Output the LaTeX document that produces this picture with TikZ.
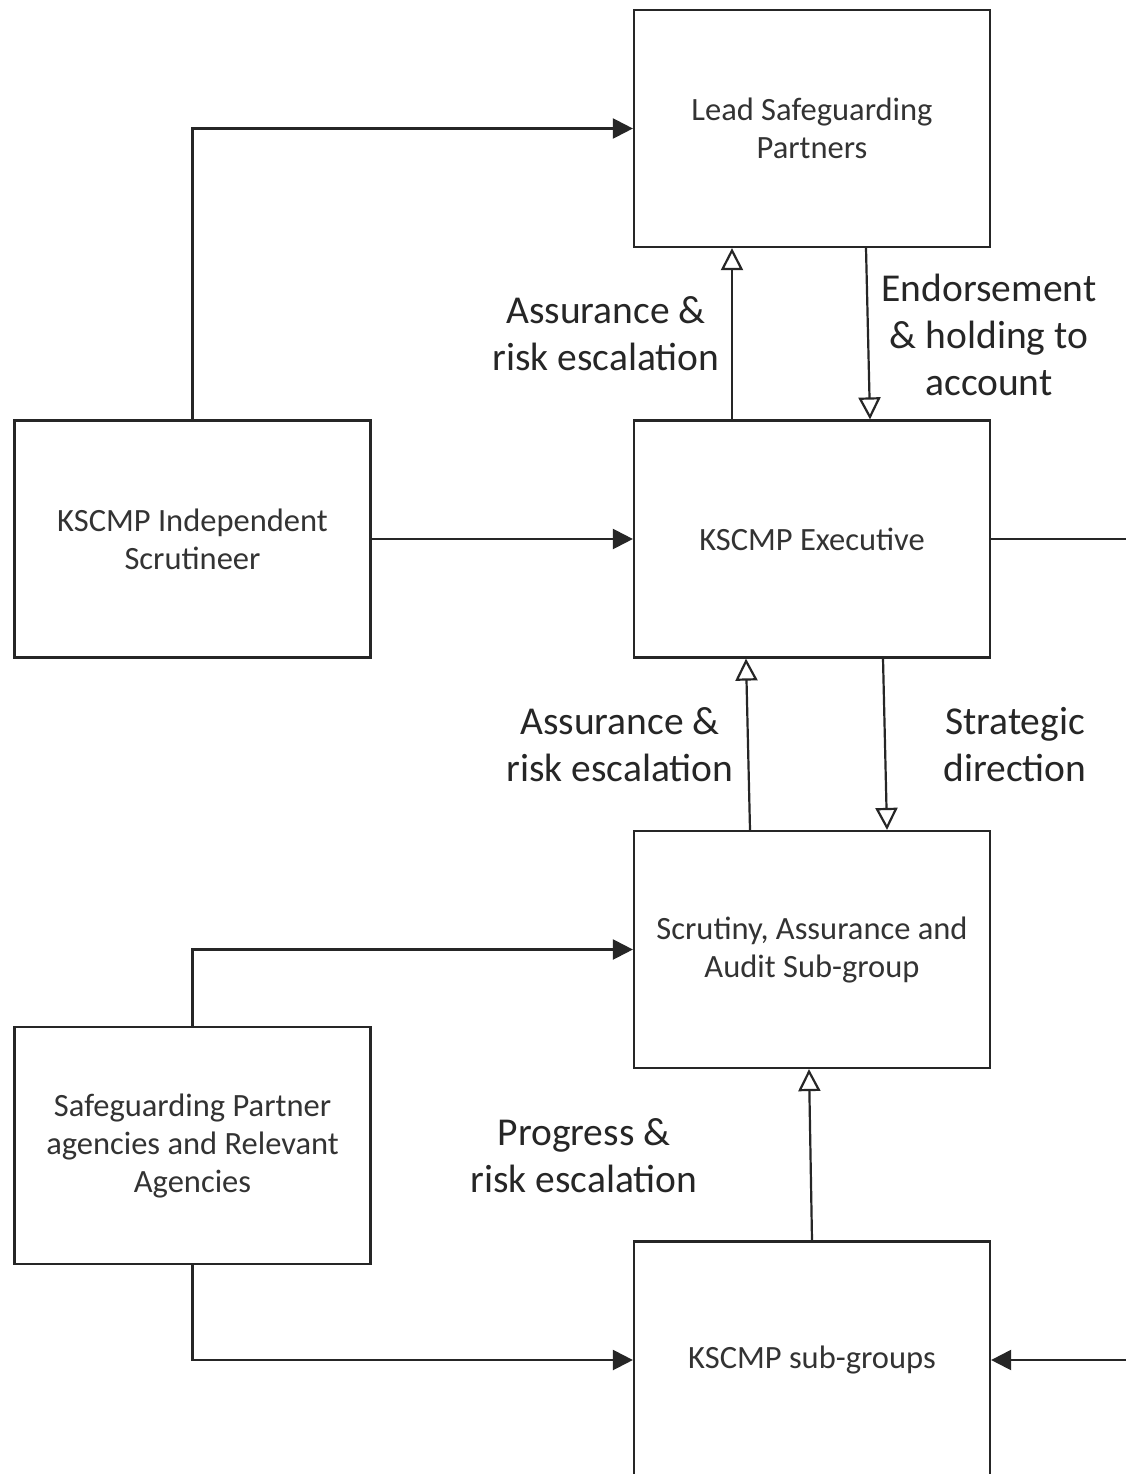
\documentclass[tikz,border=0pt]{standalone}
\usepackage{fontspec}
\setmainfont{Carlito}
\usepackage{tikz}
\usetikzlibrary{arrows.meta}

\begin{document}
\begin{tikzpicture}[x=1pt,y=-1pt,
    box/.style={draw=black!85,line width=2.2pt,minimum width=356pt,minimum height=237pt,
        align=center,text=black!80,font=\fontsize{32.5}{38}\selectfont},
    lbl/.style={align=center,font=\fontsize{39.5}{47}\selectfont,text=black!85},
    flow/.style={draw=black!85,line width=2.2pt,-{Triangle[length=20pt,width=20pt]}},
    back/.style={draw=black!85,line width=2.2pt,-{Triangle[open,length=22pt,width=22pt]}}]
            \useasboundingbox (0,0) rectangle (1126,1474);
            \clip (0,0) rectangle (1126,1474);
            \fill[white] (0,0) rectangle (1126,1474);

            % boxes
            \node[box] (lead) at (812,128.5) {Lead Safeguarding\\Partners};
            \node[box] (exec) at (812,539) {KSCMP Executive};
            \node[box] (scrut) at (812,949.5) {Scrutiny, Assurance and\\Audit Sub-group};
            \node[box] (subs) at (812,1360) {KSCMP sub-groups};
            \node[box] (indep) at (192.5,539) {KSCMP Independent\\Scrutineer};
            \node[box] (agency) at (192.5,1145.5) {Safeguarding Partner\\agencies and Relevant\\Agencies};

            % free ends at the right edge
            \coordinate (execout) at (1126,539);
            \coordinate (subsin) at (1126,1360);

            % labels
            \node[lbl] (upassure) at (606,334) {Assurance \&\\risk escalation};
            \node[lbl] (endorse) at (989,335) {Endorsement\\\& holding to\\account};
            \node[lbl] (midassure) at (620,744.5) {Assurance \&\\risk escalation};
            \node[lbl] (strategy) at (1015,744.5) {Strategic\\direction};
            \node[lbl] (progress) at (584,1156) {Progress \&\\risk escalation};

            % connectors
            \draw[flow] (indep.north) |- (lead.west);
            \draw[flow] (indep.east) -- (exec.west);
            \draw[flow] (agency.north) |- (scrut.west);
            \draw[flow] (agency.south) |- (subs.west);
            \draw[flow] (subsin) -- (subs.east);
            \draw[draw=black!85,line width=2.2pt] (exec.east) -- (execout);

            \draw[back] ([xshift=-80pt]exec.north) -- ([xshift=-80pt]lead.south);
            \draw[back] ([xshift=54pt]lead.south) -- ([xshift=58pt]exec.north);
            \draw[back] ([xshift=-62pt]scrut.north) -- ([xshift=-66pt]exec.south);
            \draw[back] ([xshift=71pt]exec.south) -- ([xshift=75pt]scrut.north);
            \draw[back] (subs.north) -- ([xshift=-3pt]scrut.south);
        \end{tikzpicture}
\end{document}
